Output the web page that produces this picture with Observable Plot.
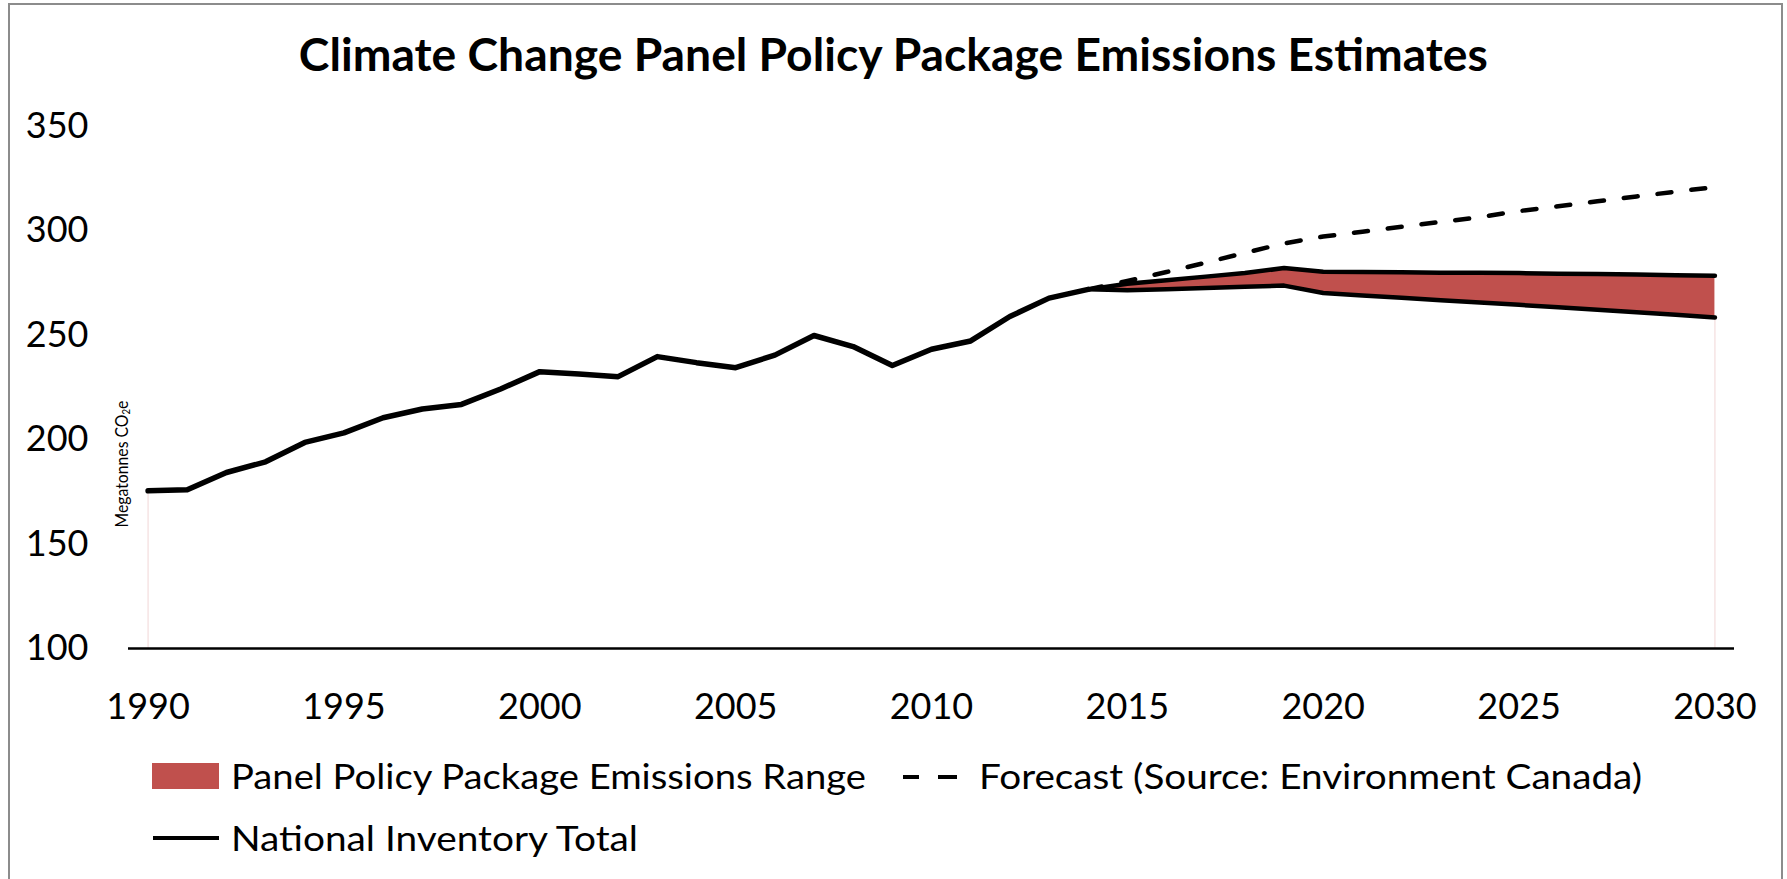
<!DOCTYPE html>
<html><head><meta charset="utf-8">
<script src="https://cdn.jsdelivr.net/npm/d3@7"></script>
<script src="https://cdn.jsdelivr.net/npm/@observablehq/plot@0.6"></script>
<style>
html,body{margin:0;padding:0;background:#fff;}
body{width:1787px;height:879px;overflow:hidden;position:relative;font-family:Lato,"Open Sans",sans-serif;color:#000;}
#frame{position:absolute;left:8px;top:3px;width:1775px;height:900px;border:2px solid #8c8c8c;border-bottom:none;box-sizing:border-box;}
#title{position:absolute;left:0;top:31px;width:1787px;text-align:center;font-weight:700;font-size:46px;line-height:1;white-space:nowrap;}
#title span{display:inline-block;transform-origin:center;}
#chart{position:absolute;left:0;top:95px;}
#ylab{position:absolute;left:122px;top:464px;width:0;height:0;}
#ylab span{position:absolute;left:0;top:0;font-size:18px;line-height:1;white-space:nowrap;display:inline-block;}
.leg{position:absolute;font-size:35px;line-height:1;white-space:nowrap;transform-origin:left center;}
.sw{position:absolute;}
</style></head><body>
<div id="frame"></div>
<div id="title"><span id="titleText"></span></div>
<div id="chart"></div>
<div id="ylab"><span id="ylabText"></span></div>
<div id="legend"></div>
<script>
const titleText = "Climate Change Panel Policy Package Emissions Estimates";
const yLabelMain = "Megatonnes CO";
const yLabelSub = "2";
const yLabelEnd = "e";

const inventoryYears = [1990,1991,1992,1993,1994,1995,1996,1997,1998,1999,2000,2001,2002,2003,2004,2005,2006,2007,2008,2009,2010,2011,2012,2013,2014];
const inventoryValues = [175.5,176,184.3,189.4,198.7,203.3,210.5,214.7,216.9,224.3,232.6,231.5,230.2,239.8,236.9,234.5,240.5,249.9,244.6,235.5,243.3,247.3,259,267.8,272];

const rangeYears = [2014,2015,2016,2017,2018,2019,2020,2021,2022,2023,2024,2025,2026,2027,2028,2029,2030];
const rangeLow  = [272,271.6,272.1,272.6,273.2,273.8,270.3,269.1,268,266.8,265.7,264.6,263.4,262.2,261,259.8,258.5];
const rangeHigh = [272,274.7,276.4,278.1,279.8,282.2,280.4,280.3,280.2,280,279.9,279.8,279.5,279.3,279.1,278.8,278.5];

const forecastYears = [2014,2015,2016,2017,2018,2019,2020,2021,2022,2023,2024,2025,2026,2027,2028,2029,2030];
const forecastValues = [272,276,280.3,284.8,289.5,294,297.3,299.6,302,304.3,306.6,309.5,311.8,314.2,316.5,318.8,321];

const xTicks = [1990,1995,2000,2005,2010,2015,2020,2025,2030];
const yTicks = [100,150,200,250,300,350];

const legendRange = "Panel Policy Package Emissions Range";
const legendForecast = "Forecast (Source: Environment Canada)";
const legendInventory = "National Inventory Total";

const inventory = inventoryYears.map((year, i) => ({year, value: inventoryValues[i]}));
const range = rangeYears.map((year, i) => ({year, low: rangeLow[i], high: rangeHigh[i]}));
const forecast = forecastYears.map((year, i) => ({year, value: forecastValues[i]}));
const baseEdges = [
  {year: inventoryYears[0], value: inventoryValues[0]},
  {year: rangeYears[rangeYears.length - 1], value: rangeLow[rangeLow.length - 1]}
];

const font = "Lato, 'Open Sans', sans-serif";
const chart = Plot.plot({
  width: 1787,
  height: 643,
  marginLeft: 128,
  marginRight: 53,
  marginTop: 31,
  marginBottom: 90,
  x: {domain: [1989.5, 2030.5]},
  y: {domain: [100, 350]},
  style: {fontFamily: font, color: "#000", background: "transparent", overflow: "visible"},
  marks: [
    Plot.ruleX(baseEdges, {x: "year", y1: 100, y2: "value", stroke: "#f6e4e4", strokeWidth: 1.5}),
    Plot.areaY(range, {x: "year", y1: "low", y2: "high", fill: "#C0504D"}),
    Plot.line(range, {x: "year", y: "low", stroke: "#000", strokeWidth: 4.5}),
    Plot.line(range, {x: "year", y: "high", stroke: "#000", strokeWidth: 4.5}),
    Plot.line(forecast, {x: "year", y: "value", stroke: "#000", strokeWidth: 4.5, strokeDasharray: "14,20", strokeLinecap: "round"}),
    Plot.line(inventory, {x: "year", y: "value", stroke: "#000", strokeWidth: 5.5}),
    Plot.ruleY([100], {stroke: "#000", strokeWidth: 2.5}),
    Plot.axisX(xTicks, {tickSize: 0, tickPadding: 45, fontSize: 36, tickFormat: d => String(d), label: null}),
    Plot.axisY(yTicks, {tickSize: 0, tickPadding: 40, fontSize: 36, tickFormat: d => String(d), label: null})
  ]
});
document.getElementById("chart").appendChild(chart);

document.getElementById("titleText").textContent = titleText;

const yl = document.getElementById("ylabText");
yl.appendChild(document.createTextNode(yLabelMain));
const sub = document.createElement("sub");
sub.textContent = yLabelSub;
sub.style.fontSize = "11px";
sub.style.verticalAlign = "-2px";
yl.appendChild(sub);
yl.appendChild(document.createTextNode(yLabelEnd));

const legend = document.getElementById("legend");
function addBox(left, top, w, h, bg) {
  const d = document.createElement("div");
  d.className = "sw";
  Object.assign(d.style, {left: left + "px", top: top + "px", width: w + "px", height: h + "px", background: bg});
  legend.appendChild(d);
}
function addText(text, left, top, target) {
  const s = document.createElement("span");
  s.className = "leg";
  s.textContent = text;
  s.dataset.target = target;
  Object.assign(s.style, {left: left + "px", top: top + "px"});
  legend.appendChild(s);
  return s;
}
addBox(152, 763, 67, 26, "#C0504D");
addText(legendRange, 231, 758, 635);
addBox(903, 775, 16, 4, "#000");
addBox(938, 775, 19, 4, "#000");
addText(legendForecast, 979, 758, 663);
addBox(153, 836, 66, 4, "#000");
addText(legendInventory, 231, 820, 407);

function fit() {
  document.querySelectorAll(".leg").forEach(s => {
    const w = s.getBoundingClientRect().width;
    s.style.transform = `scaleX(${(+s.dataset.target / w).toFixed(4)})`;
  });
  const t = document.getElementById("titleText");
  const tw = t.getBoundingClientRect().width;
  t.style.transform = `scaleX(${(1189 / tw).toFixed(4)})`;
  const yw = yl.offsetWidth, yh = yl.offsetHeight;
  const k = 127 / yw;
  yl.style.transform = `translate(${-yw / 2}px, ${-yh / 2}px) rotate(-90deg) scaleX(${k.toFixed(4)})`;
  yl.style.transformOrigin = "center";
}
(document.fonts && document.fonts.ready ? document.fonts.ready : Promise.resolve()).then(fit);
</script>
</body></html>
